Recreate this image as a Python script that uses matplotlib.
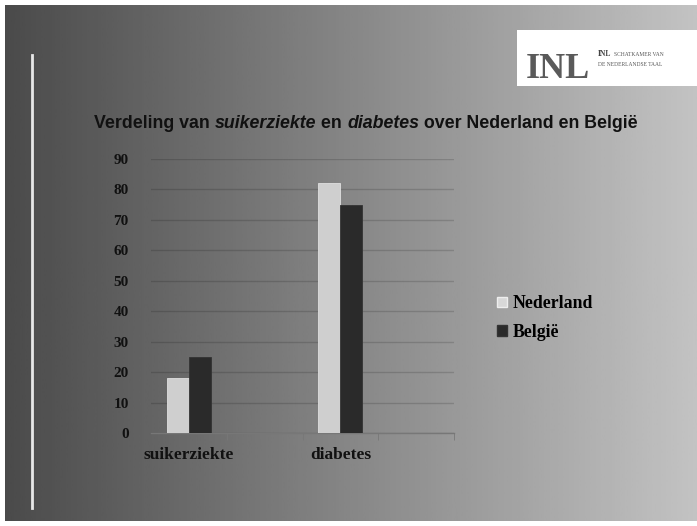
import numpy as np
import matplotlib
matplotlib.use('Agg')
import matplotlib.pyplot as plt
from matplotlib.patches import Rectangle, Patch
from matplotlib.lines import Line2D

# chart data
categories = ['suikerziekte', '', 'diabetes', '']
nederland = [18, 0, 82, 0]
belgie = [25, 0, 75, 0]
series_names = ['Nederland', 'België']
y_ticks = [0, 10, 20, 30, 40, 50, 60, 70, 80, 90]

W, H = 697, 526
fig = plt.figure(figsize=(W / 100, H / 100), dpi=100)
fig.patch.set_facecolor('white')

# slide background: horizontal grey gradient
bg = fig.add_axes([5 / W, 5 / H, 692 / W, 516 / H])
grad = np.linspace(0, 1, 256).reshape(1, -1)
bg.imshow(grad, aspect='auto', cmap='gray', vmin=-0.62, vmax=1.50,
          extent=[0, 1, 0, 1])
bg.set_axis_off()

# thin white vertical line at the left
fig.add_artist(Line2D([32 / W, 32 / W], [1 - 55 / H, 1 - 508 / H],
                      transform=fig.transFigure, color='#e8e8e8', lw=2))

# logo box
fig.add_artist(Rectangle((517 / W, 1 - 86 / H), 180 / W, 56 / H,
                         transform=fig.transFigure, facecolor='white',
                         edgecolor='none'))
fig.text(526 / W, 1 - 78 / H, 'INL', fontsize=26, weight='bold',
         family='Liberation Serif', color='#5a5a5a', va='baseline', ha='left')
fig.text(598 / W, 1 - 56 / H, 'INL', fontsize=5.5, weight='bold',
         family='Liberation Serif', color='#444')
fig.text(614 / W, 1 - 56 / H, 'SCHATKAMER VAN', fontsize=4,
         family='Liberation Serif', color='#555')
fig.text(598 / W, 1 - 66 / H, 'DE NEDERLANDSE TAAL', fontsize=4,
         family='Liberation Serif', color='#555')

# title with italic words
parts = [('Verdeling van ', 'normal'), ('suikerziekte', 'italic'),
         (' en ', 'normal'), ('diabetes', 'italic'),
         (' over Nederland en België', 'normal')]
renderer = fig.canvas.get_renderer()
texts = []
for s, st in parts:
    t = fig.text(0, 1 - 124 / H, s, fontsize=12.8, weight='bold', style=st,
                 family='Liberation Sans', color='#111', va='center')
    texts.append(t)
widths = [t.get_window_extent(renderer).width for t in texts]
x = 366 - sum(widths) / 2
for t, w in zip(texts, widths):
    t.set_x(x / W)
    x += w

# chart axes
ax = fig.add_axes([151 / W, 93 / H, 303 / W, 274 / H])
ax.patch.set_alpha(0)
pos = np.arange(len(categories))
bw = 0.29
ax.bar(pos - bw / 2, nederland, bw, color='#cfcfcf', edgecolor='#e0e0e0',
       lw=0.6, zorder=3)
ax.bar(pos + bw / 2, belgie, bw, color='#2a2a2a', edgecolor='#333',
       lw=0.6, zorder=3)
ax.set_xlim(-0.5, len(categories) - 0.5)
ax.set_ylim(0, 90)
ax.set_yticks(y_ticks)
ax.set_yticklabels([str(v) for v in y_ticks], family='Liberation Serif',
                   weight='bold', fontsize=11, color='#111')
ax.tick_params(axis='y', length=0, pad=16)
ax.yaxis.grid(True, color='#000000', alpha=0.15, lw=1)
ax.set_axisbelow(True)
ax.set_xticks([0, 2])
ax.set_xticklabels(['suikerziekte', 'diabetes'], family='Liberation Serif',
                   weight='bold', fontsize=12.5, color='#111')
ax.tick_params(axis='x', length=0, pad=10)
ax.set_xticks(pos + 0.5, minor=True)
ax.tick_params(axis='x', which='minor', length=5, color='#777', direction='out')
for sp in ['top', 'right', 'left']:
    ax.spines[sp].set_visible(False)
ax.spines['bottom'].set_color('#777')
ax.spines['bottom'].set_linewidth(1)

handles = [Patch(facecolor='#d8d8d8', edgecolor='#eee'),
           Patch(facecolor='#2a2a2a', edgecolor='#333')]
fig.legend(handles, series_names, loc='center left',
           bbox_to_anchor=(481 / W, 1 - 318 / H), frameon=False,
           handlelength=0.55, handleheight=0.55, handletextpad=0.35,
           labelspacing=0.65,
           prop={'family': 'Liberation Serif', 'weight': 'bold', 'size': 12.8})

fig.savefig('out.png', dpi=100)
